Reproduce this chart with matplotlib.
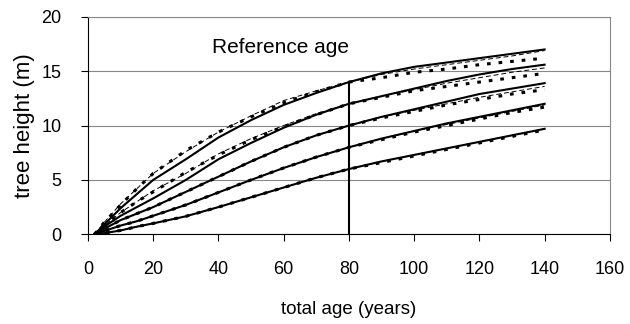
import numpy as np
import matplotlib.pyplot as plt

plt.rcParams['font.family'] = ['Liberation Sans', 'DejaVu Sans']

# total age (years)
ages = [2, 5, 10, 15, 20, 30, 40, 50, 60, 70, 80, 90, 100, 110, 120, 130, 140]

# solid curves (one per site index at reference age 80)
solid_14 = [0, 0.9, 2.4, 3.7, 5.0, 6.9, 8.9, 10.5, 11.9, 13.0, 14.0, 14.8, 15.4, 15.8, 16.2, 16.6, 17.0]
solid_12 = [0, 0.7, 1.7, 2.5, 3.3, 5.0, 6.9, 8.4, 9.8, 11.0, 12.0, 12.7, 13.4, 14.1, 14.7, 15.2, 15.6]
solid_10 = [0, 0.5, 1.3, 1.9, 2.5, 3.9, 5.3, 6.7, 8.0, 9.1, 10.0, 10.8, 11.5, 12.2, 12.9, 13.4, 13.9]
solid_8 = [0, 0.3, 0.8, 1.2, 1.7, 2.7, 3.85, 5.0, 6.1, 7.1, 8.0, 8.8, 9.5, 10.2, 10.8, 11.4, 12.0]
solid_6 = [0, 0.1, 0.35, 0.7, 1.0, 1.65, 2.5, 3.4, 4.3, 5.2, 6.0, 6.7, 7.3, 7.9, 8.5, 9.1, 9.7]

# thin dashed curves
dash_14 = [0, 1.1, 2.8, 4.2, 5.6, 7.6, 9.4, 10.9, 12.3, 13.2, 14.0, 14.7, 15.2, 15.6, 16.0, 16.4, 16.9]
dash_12 = [0, 0.8, 2.0, 3.0, 4.0, 5.6, 7.4, 8.8, 10.0, 11.1, 12.0, 12.7, 13.3, 13.9, 14.4, 14.9, 15.3]
dash_10 = [0, 0.5, 1.3, 1.9, 2.5, 3.9, 5.3, 6.7, 8.0, 9.1, 10.0, 10.8, 11.4, 12.0, 12.6, 13.1, 13.6]
dash_8 = [0, 0.3, 0.8, 1.2, 1.7, 2.7, 3.85, 5.0, 6.1, 7.1, 8.0, 8.8, 9.5, 10.1, 10.7, 11.3, 11.9]
dash_6 = [0, 0.1, 0.35, 0.7, 1.0, 1.65, 2.5, 3.4, 4.3, 5.2, 6.0, 6.7, 7.3, 7.9, 8.5, 9.1, 9.7]

# bold dotted curves
dot_14 = [0, 1.1, 2.7, 4.2, 5.6, 7.7, 9.4, 10.8, 12.1, 13.1, 14.0, 14.4, 14.9, 15.2, 15.6, 15.9, 16.2]
dot_12 = [0, 0.8, 2.0, 3.0, 3.9, 5.7, 7.3, 8.7, 9.9, 11.0, 12.0, 12.6, 13.2, 13.6, 14.0, 14.4, 14.8]
dot_10 = [0, 0.5, 1.3, 1.9, 2.5, 3.9, 5.3, 6.7, 8.0, 9.1, 10.0, 10.7, 11.3, 11.9, 12.4, 12.9, 13.3]
dot_8 = [0, 0.3, 0.8, 1.2, 1.7, 2.7, 3.85, 5.0, 6.1, 7.1, 8.0, 8.7, 9.4, 10.0, 10.6, 11.2, 11.7]
dot_6 = [0, 0.1, 0.35, 0.7, 1.0, 1.65, 2.5, 3.4, 4.3, 5.2, 6.0, 6.6, 7.2, 7.8, 8.4, 9.0, 9.6]

ref_age = 80
ref_height = 14.0

fig = plt.figure(figsize=(6.3, 3.24), dpi=100)
ax = fig.add_axes([0.1397, 0.277, 0.8283, 0.671])

for d in [dot_14, dot_12, dot_10, dot_8, dot_6]:
    ax.plot(ages, d, color='black', lw=2.2, dashes=(1.2, 2.6), dash_capstyle='butt')
for d in [dash_14, dash_12, dash_10, dash_8, dash_6]:
    ax.plot(ages, d, color='black', lw=0.7, dashes=(5, 3))
for s in [solid_14, solid_12, solid_10, solid_8, solid_6]:
    ax.plot(ages, s, color='black', lw=1.5)

ax.plot([ref_age, ref_age], [0, ref_height], color='black', lw=1.5)
ax.text(38, 17.2, 'Reference age', fontsize=15, va='center', ha='left')

ax.set_xlim(0, 160)
ax.set_ylim(0, 20)
ax.set_xticks(np.arange(0, 161, 20))
ax.set_yticks(np.arange(0, 21, 5))
ax.yaxis.grid(True, color='#888888', lw=0.8)
ax.set_axisbelow(True)
for side in ['top', 'right']:
    ax.spines[side].set_color('#888888')
    ax.spines[side].set_linewidth(0.8)
ax.tick_params(axis='both', direction='out', length=5, labelsize=13, pad=14)
ax.set_xlabel('total age (years)', fontsize=13.5, labelpad=17)
ax.set_ylabel('tree height (m)', fontsize=16, labelpad=5)

fig.savefig('out.png', dpi=100)
plt.close(fig)
